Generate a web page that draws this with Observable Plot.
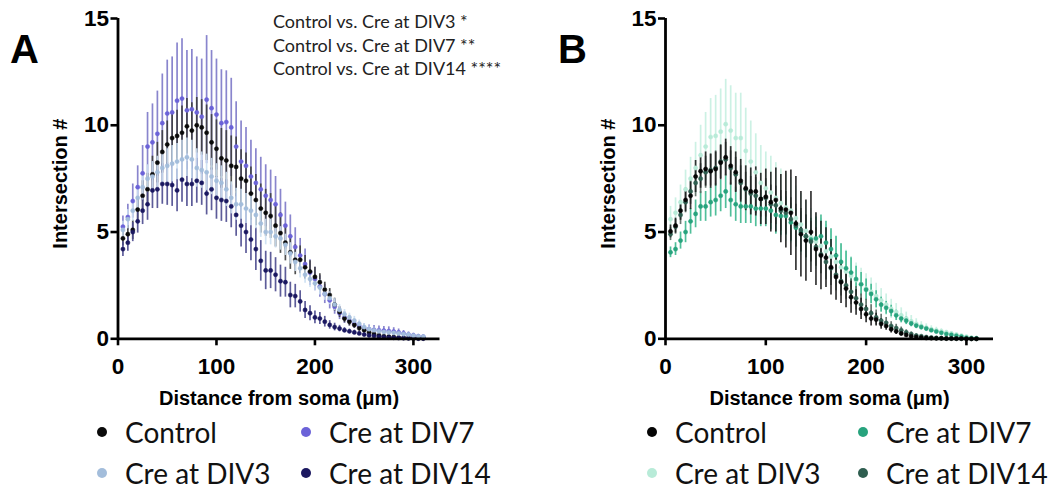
<!DOCTYPE html>
<html><head><meta charset="utf-8">
<script src="https://cdn.jsdelivr.net/npm/d3@7"></script>
<script src="https://cdn.jsdelivr.net/npm/@observablehq/plot@0.6"></script>
<style>
body{margin:0;background:#fff;}
#root{position:relative;width:1062px;height:491px;overflow:hidden;background:#fff;}
.panel{position:absolute;top:0;}
.letter{position:absolute;font:bold 40px "Liberation Sans",Arial,sans-serif;line-height:1;color:#000;}
.note{position:absolute;font:18px Lato,sans-serif;color:#222;white-space:nowrap;line-height:1;transform:translateY(-50%);}
.leg{position:absolute;font:28px Lato,sans-serif;color:#111;white-space:nowrap;line-height:1;transform:translateY(-50%);}
.sw{position:absolute;width:10px;height:10px;border-radius:50%;filter:blur(0.7px);transform:translate(-50%,-50%);}
</style></head><body><div id="root"></div>
<script>
// Distance from soma (µm)
const distance = [5,10,15,20,25,30,35,40,45,50, 55,60,65,70,75,80,85,90,95,100,
  105,110,115,120,125,130,135,140,145,150, 155,160,165,170,175,180,185,190,195,200,
  205,210,215,220,225,230,235,240,245,250, 255,260,265,270,275,280,285,290,295,300, 305,310];
const yTicks = [0,5,10,15];
const xTicks = [0,100,200,300];
const seriesNames = ["Control","Cre at DIV3","Cre at DIV7","Cre at DIV14"];
const notes = ["Control vs. Cre at DIV3 *","Control vs. Cre at DIV7 **","Control vs. Cre at DIV14 ****"];

// Panel A means / SEM
const ctlA = [4.7,4.9,5.1,6.05,6.7,7.0,7.7,8.25,8.75,9.1, 9.4,9.5,9.65,9.95,9.75,10.0,9.9,9.65,9.2,8.9,
  8.45,8.35,8.1,8.05,7.5,7.4,6.8,6.5,6.1,5.9, 5.75,5.3,4.95,4.5,4.05,3.7,3.7,3.35,3.15,2.9,
  2.65,2.3,2.05,1.6,1.25,0.95,0.8,0.65,0.5,0.4, 0.3,0.22,0.16,0.12,0.1,0.08,0.06,0.05,0.04,0.03, 0.02,0.02];
const ctlAsem = [0.35,0.4,0.45,0.6,0.7,0.75,0.85,0.95,1.0,1.1, 1.15,1.2,1.25,1.3,1.3,1.3,1.3,1.3,1.3,1.35,
  1.4,1.4,1.4,1.4,1.35,1.3,1.25,1.2,1.15,1.1, 1.05,1.0,0.95,0.85,0.8,0.7,0.65,0.55,0.5,0.45,
  0.4,0.35,0.3,0.3,0.25,0.2,0.2,0.15,0.15,0.12, 0.1,0.1,0.08,0.08,0.06,0.06,0.05,0.05,0.04,0.04, 0.03,0.03];
const div3A = [5.1,5.6,6.0,6.6,7.1,7.5,7.6,7.8,8.0,8.1, 8.2,8.3,8.4,8.5,8.4,8.0,7.9,7.8,7.6,7.4,
  7.3,7.0,6.6,6.3,6.3,6.1,6.0,5.8,5.4,5.0, 5.0,4.8,4.7,4.4,4.0,3.6,3.3,3.0,2.8,2.6,
  2.4,2.1,1.9,1.6,1.35,1.15,1.0,0.85,0.7,0.55, 0.45,0.4,0.35,0.32,0.3,0.28,0.25,0.22,0.2,0.15, 0.12,0.1];
const div3Asem = [0.4,0.45,0.5,0.55,0.6,0.65,0.7,0.75,0.8,0.8, 0.85,0.85,0.9,0.9,0.9,0.9,0.85,0.85,0.85,0.8,
  0.8,0.8,0.75,0.75,0.7,0.7,0.7,0.65,0.65,0.6, 0.6,0.55,0.55,0.5,0.5,0.45,0.45,0.4,0.4,0.35,
  0.35,0.3,0.3,0.28,0.25,0.22,0.2,0.2,0.18,0.16, 0.15,0.14,0.13,0.12,0.12,0.11,0.1,0.1,0.09,0.08, 0.07,0.06];
const div7A = [5.25,5.7,6.45,7.1,7.75,9.0,9.2,9.6,10.1,10.55, 10.6,11.15,11.25,10.7,10.75,10.6,10.4,11.2,10.8,10.5,
  10.1,10.15,9.9,9.0,8.3,8.1,7.6,7.3,7.0,6.7, 6.5,6.3,5.8,5.3,4.8,4.3,3.9,3.5,3.1,2.8,
  2.45,2.1,1.8,1.5,1.2,1.0,0.85,0.7,0.6,0.5, 0.45,0.42,0.4,0.38,0.36,0.34,0.3,0.25,0.2,0.16, 0.12,0.1];
const div7Asem = [0.5,0.6,0.8,1.0,1.3,1.6,1.8,2.0,2.3,2.5, 2.6,2.7,2.8,2.8,2.8,2.6,2.7,3.0,2.7,2.6,
  2.5,2.4,2.3,2.1,1.9,1.8,1.7,1.6,1.5,1.45, 1.4,1.3,1.2,1.1,1.0,0.9,0.8,0.7,0.6,0.55,
  0.5,0.45,0.4,0.35,0.3,0.28,0.25,0.22,0.2,0.2, 0.2,0.2,0.2,0.2,0.2,0.18,0.16,0.14,0.12,0.1, 0.08,0.06];
const div14A = [4.2,4.5,5.0,5.5,6.0,6.3,6.95,7.0,7.25,7.25, 7.2,6.95,7.45,7.25,7.25,7.4,7.3,6.8,7.0,6.6,
  6.5,6.45,6.2,5.8,5.3,5.0,4.65,4.2,3.65,3.2, 3.2,3.0,2.7,2.65,2.05,2.0,1.75,1.35,1.2,1.0,
  0.95,0.8,0.65,0.55,0.48,0.4,0.35,0.3,0.25,0.2, 0.16,0.13,0.1,0.08,0.06,0.05,0.04,0.03,0.02,0.02, 0.01,0.01];
const div14Asem = [0.35,0.4,0.45,0.55,0.65,0.75,0.85,0.9,0.95,1.0, 1.0,1.0,1.05,1.05,1.05,1.05,1.05,1.0,1.0,1.0,
  1.0,1.0,1.0,1.0,1.0,1.0,1.0,1.0,0.95,0.9, 0.85,0.8,0.75,0.7,0.6,0.55,0.5,0.4,0.35,0.3,
  0.28,0.25,0.2,0.18,0.15,0.12,0.1,0.1,0.08,0.08, 0.06,0.05,0.05,0.04,0.04,0.03,0.03,0.02,0.02,0.02, 0.01,0.01];

// Panel B means / SEM
const ctlB = [5.03,5.3,6.0,6.5,6.7,7.6,7.85,7.95,7.85,7.95, 8.25,8.5,8.1,7.8,7.4,7.05,6.9,6.9,6.55,6.65,
  6.4,6.5,6.1,6.05,5.9,5.4,4.9,4.6,5.0,4.2, 3.9,3.8,3.35,2.9,2.65,2.35,1.95,1.7,1.4,1.15,
  0.95,0.9,0.7,0.6,0.45,0.35,0.25,0.18,0.12,0.08, 0.06,0.04,0.03,0.02,0.02,0.01,0.01,0.01,0.01,0.0, 0.0,0.0];
const ctlBsem = [0.3,0.35,0.45,0.55,0.65,0.75,0.8,0.8,0.8,0.8, 0.8,0.85,0.9,0.95,1.0,1.05,1.1,1.15,1.2,1.3,
  1.4,1.5,1.6,1.8,2.0,2.2,2.0,1.9,1.9,1.7, 1.6,1.4,1.3,1.1,1.0,0.9,0.75,0.6,0.5,0.4,
  0.35,0.3,0.25,0.2,0.18,0.15,0.12,0.1,0.08,0.06, 0.05,0.04,0.03,0.02,0.02,0.01,0.01,0.01,0.01,0.0, 0.0,0.0];
const div3B = [5.6,5.9,6.4,7.0,7.5,8.0,8.6,9.0,9.45,9.5, 9.7,10.05,9.75,9.4,9.4,8.8,8.3,7.8,7.3,7.05,
  6.85,6.6,6.35,6.15,6.0,5.65,5.35,5.05,4.75,4.55, 4.35,4.1,3.85,3.6,3.35,3.15,2.95,2.75,2.55,2.35,
  2.2,2.0,1.8,1.6,1.4,1.25,1.1,0.95,0.82,0.7, 0.6,0.52,0.45,0.4,0.35,0.3,0.25,0.2,0.15,0.1, 0.05,0.03];
const div3Bsem = [0.6,0.7,0.8,0.9,1.0,1.2,1.4,1.6,1.8,1.9, 2.0,2.1,2.1,2.1,2.1,2.0,1.9,1.8,1.75,1.7,
  1.7,1.65,1.6,1.6,1.55,1.5,1.45,1.4,1.35,1.3, 1.3,1.25,1.2,1.15,1.1,1.0,0.9,0.8,0.75,0.7,
  0.65,0.6,0.55,0.5,0.45,0.4,0.35,0.3,0.27,0.24, 0.2,0.18,0.16,0.14,0.12,0.1,0.08,0.06,0.05,0.04, 0.03,0.02];
const div7B = [4.05,4.2,4.6,5.0,5.5,5.85,6.2,6.2,6.4,6.5, 6.7,6.9,6.5,6.3,6.2,6.2,6.2,6.1,6.1,6.1,
  6.0,5.8,5.75,5.75,5.45,5.2,5.0,4.8,4.65,4.7, 4.8,4.5,4.2,3.9,3.6,3.3,3.1,2.8,2.55,2.3,
  2.1,1.85,1.6,1.45,1.3,1.1,0.95,0.85,0.72,0.62, 0.55,0.48,0.4,0.34,0.28,0.22,0.18,0.14,0.1,0.05, 0.03,0.02];
const div7Bsem = [0.25,0.3,0.4,0.5,0.6,0.65,0.7,0.7,0.7,0.75, 0.75,0.8,0.8,0.8,0.8,0.8,0.8,0.85,0.85,0.85,
  0.9,0.9,0.9,0.9,0.9,0.9,0.95,1.0,1.0,1.0, 1.0,1.0,0.95,0.9,0.85,0.8,0.7,0.6,0.55,0.5,
  0.45,0.4,0.35,0.3,0.27,0.24,0.2,0.18,0.15,0.13, 0.12,0.1,0.09,0.08,0.07,0.06,0.05,0.04,0.03,0.02, 0.01,0.01];
const div14B = [4.9,5.25,5.8,6.4,6.9,7.3,7.5,7.8,7.9,8.0, 8.3,8.4,8.0,7.7,7.3,7.0,6.8,6.7,6.55,6.6,
  6.3,6.25,6.0,5.9,5.6,5.3,5.1,4.8,4.55,4.3, 3.95,3.6,3.3,3.0,2.7,2.5,2.2,1.9,1.6,1.4,
  1.2,1.0,0.85,0.75,0.6,0.5,0.4,0.3,0.22,0.15, 0.12,0.08,0.06,0.04,0.03,0.02,0.02,0.01,0.01,0.01, 0.0,0.0];
const div14Bsem = [0.3,0.35,0.45,0.5,0.6,0.65,0.7,0.75,0.75,0.8, 0.8,0.8,0.8,0.8,0.8,0.8,0.8,0.85,0.85,0.9,
  0.9,0.9,0.95,1.0,1.0,1.0,1.0,1.0,0.95,0.9, 0.9,0.85,0.8,0.75,0.7,0.65,0.6,0.55,0.5,0.45,
  0.4,0.35,0.3,0.25,0.2,0.18,0.15,0.12,0.1,0.08, 0.06,0.05,0.04,0.03,0.02,0.02,0.01,0.01,0.01,0.01, 0.0,0.0];

const colorsA = {"Control":{pt:"#0a0a0a",bar:"#3c3c3c"},"Cre at DIV3":{pt:"#a3bddb",bar:"#cbdff2"},
  "Cre at DIV7":{pt:"#6b62d8",bar:"#7c78c8"},"Cre at DIV14":{pt:"#1b1860",bar:"#4b4a8e"}};
const colorsB = {"Control":{pt:"#050505",bar:"#1e1e1e"},"Cre at DIV3":{pt:"#b8ebd8",bar:"#c6f0e1"},
  "Cre at DIV7":{pt:"#27a37d",bar:"#3db88f"},"Cre at DIV14":{pt:"#2f5e50",bar:"#56675f"}};

function rowsFor(name, mean, sem){
  return mean.map((m,i)=>({name, x: distance[i], y: m, lo: Math.max(0, m - sem[i]), hi: m + sem[i]}));
}

function panel(series, colors, cfg){
  const marks = [];
  for (const s of series) marks.push(Plot.ruleX(s.rows,{x:"x",y1:"lo",y2:"hi",stroke:colors[s.name].bar,strokeWidth:1.7,strokeOpacity:0.9}));
  for (const s of series) marks.push(Plot.dot(s.rows,{x:"x",y:"y",r:2.1,fill:colors[s.name].pt,stroke:colors[s.name].pt,strokeWidth:0.5}));
  marks.push(Plot.ruleX([0],{y1:0,y2:15,strokeWidth:2.8,stroke:"#000"}));
  marks.push(Plot.ruleY([0],{x1:0,x2:327,strokeWidth:2.8,stroke:"#000"}));
  marks.push(Plot.axisY({ticks:yTicks,tickSize:7,tickPadding:2,fontSize:22.5,fontWeight:"bold",strokeWidth:2.6,label:null}));
  marks.push(Plot.axisX({ticks:xTicks,tickSize:7,tickPadding:12,fontSize:22.5,fontWeight:"bold",strokeWidth:2.6,label:null}));
  marks.push(Plot.text(["Intersection #"],{frameAnchor:"left",textAnchor:"middle",dx:-cfg.ylabOff,dy:5,rotate:-90,fontSize:20,fontWeight:"bold",fill:"#000"}));
  marks.push(Plot.text(["Distance from soma (\u03bcm)"],{frameAnchor:"bottom",dy:60,fontSize:20,fontWeight:"bold",fill:"#000",lineAnchor:"middle"}));
  return Plot.plot({
    width: cfg.width, height: 410,
    marginLeft: cfg.ml, marginRight: cfg.mr, marginTop: 18, marginBottom: 71.7,
    x:{domain:[0,327]}, y:{domain:[0,15]},
    style:{fontFamily:"'Liberation Sans', Arial, sans-serif", color:"#000", background:"transparent", overflow:"visible"},
    marks
  });
}

const root = document.getElementById("root");
const A = panel([
  {name:"Cre at DIV7", rows: rowsFor("Cre at DIV7", div7A, div7Asem)},
  {name:"Control", rows: rowsFor("Control", ctlA, ctlAsem)},
  {name:"Cre at DIV14", rows: rowsFor("Cre at DIV14", div14A, div14Asem)},
  {name:"Cre at DIV3", rows: rowsFor("Cre at DIV3", div3A, div3Asem)}
], colorsA, {width:531, ml:117.5, mr:91.5, ylabOff:57});
const B = panel([
  {name:"Cre at DIV3", rows: rowsFor("Cre at DIV3", div3B, div3Bsem)},
  {name:"Cre at DIV7", rows: rowsFor("Cre at DIV7", div7B, div7Bsem)},
  {name:"Cre at DIV14", rows: rowsFor("Cre at DIV14", div14B, div14Bsem)},
  {name:"Control", rows: rowsFor("Control", ctlB, ctlBsem)}
], colorsB, {width:531, ml:134, mr:69, ylabOff:57});
A.classList.add("panel"); A.style.left = "0px";
B.classList.add("panel"); B.style.left = "531px";
root.appendChild(A); root.appendChild(B);

function el(cls, html, css){ const d=document.createElement("div"); d.className=cls; d.innerHTML=html; Object.assign(d.style, css); root.appendChild(d); return d; }
el("letter","A",{left:"10px",top:"29px"});
el("letter","B",{left:"558px",top:"29px"});
notes.forEach((t,i)=> el("note", t, {left:"273px", top:(21 + i*23.5)+"px"}));

function legend(colors, pos){
  seriesNames.forEach((n,i)=>{
    const p = pos[i];
    el("sw","",{left:p[0]+"px",top:p[1]+"px",background:colors[n].pt});
    el("leg",n,{left:(p[0]+23)+"px",top:p[1]+"px"});
  });
}
// order: Control, DIV3, DIV7, DIV14
legend(colorsA, [[102,432],[102,473],[306,432],[306,473]]);
legend(colorsB, [[652,432],[652,473],[863,432],[863,473]]);
</script></body></html>
